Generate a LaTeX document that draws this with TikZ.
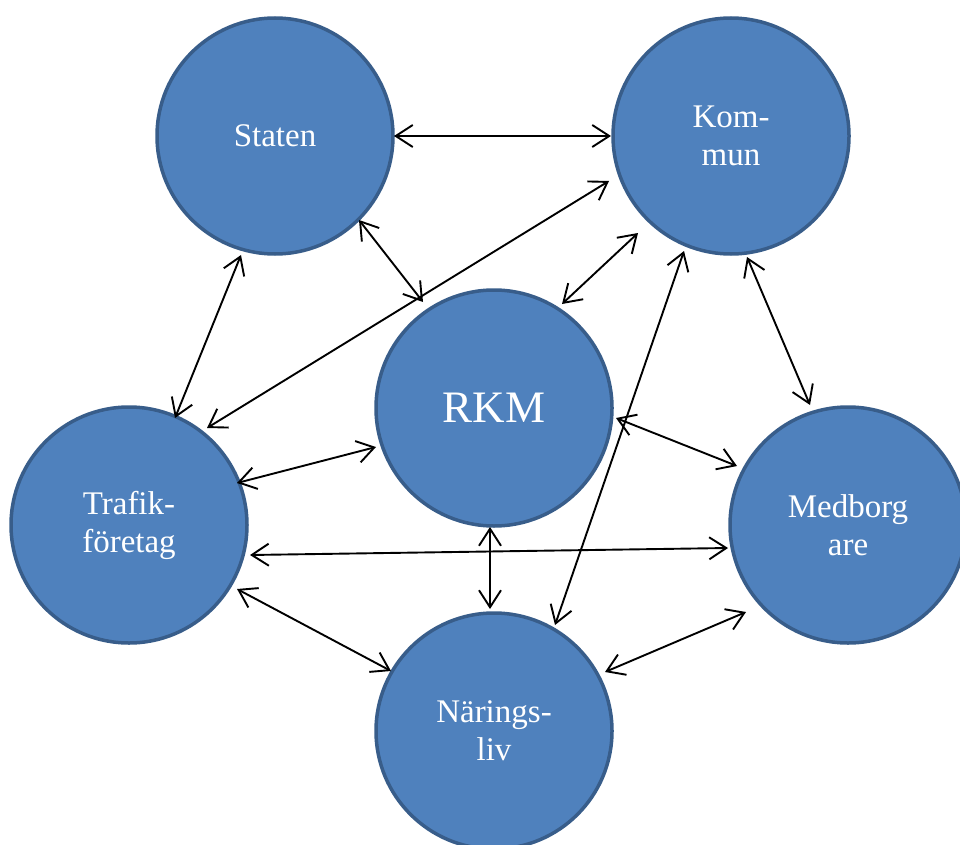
\documentclass[tikz,border=0pt]{standalone}
\usepackage{fontspec}
\setmainfont{Liberation Serif}
\usetikzlibrary{arrows.meta,calc}
\definecolor{cfill}{HTML}{4F81BD}
\definecolor{cline}{HTML}{385D8A}
\tikzset{
  bubble/.style={circle,draw=cline,line width=3.5pt,fill=cfill,minimum size=236pt,inner sep=0pt,
    text=white,align=center,font=\fontsize{33}{38}\selectfont},
  arr/.style={line width=1.9pt,{Straight Barb[length=17pt,width=22pt]}-{Straight Barb[length=17pt,width=22pt]}}
}
\begin{document}
\begin{tikzpicture}[x=1pt,y=-1pt]
\useasboundingbox (0,0) rectangle (960,845);
\node[bubble] (staten) at (275,136) {Staten};
\node[bubble] (kommun) at (731,136) {Kom-\\mun};
\node[bubble,font=\fontsize{45}{50}\selectfont] (rkm) at (494,408) {RKM};
\node[bubble] (trafik) at (129,525) {Trafik-\\företag};
\node[bubble] (medb) at (848,525) {Medborg\\are};
\node[bubble] (nar) at (494,731) {Närings-\\liv};
\draw[arr] ($(staten)+(119,0)$) -- ($(kommun)+(-120,0)$);
\draw[arr] ($(staten)+(84,84)$) -- ($(rkm)+(-71,-106)$);
\draw[arr] ($(staten)+(-34,119)$) -- ($(trafik)+(46,-107)$);
\draw[arr] ($(kommun)+(-122,45)$) -- ($(trafik)+(78,-97)$);
\draw[arr] ($(kommun)+(-93,97)$) -- ($(rkm)+(68,-104)$);
\draw[arr] ($(kommun)+(-47,115)$) -- ($(nar)+(61,-106)$);
\draw[arr] ($(kommun)+(16,121)$) -- ($(medb)+(-38,-120)$);
\draw[arr] ($(rkm)+(-118,39)$) -- ($(trafik)+(108,-42)$);
\draw[arr] ($(rkm)+(122,10)$) -- ($(medb)+(-111,-59)$);
\draw[arr] ($(rkm)+(-4,119)$) -- ($(nar)+(-4,-122)$);
\draw[arr] ($(trafik)+(121,30)$) -- ($(medb)+(-120,23)$);
\draw[arr] ($(trafik)+(108,64)$) -- ($(nar)+(-103,-60)$);
\draw[arr] ($(nar)+(111,-59)$) -- ($(medb)+(-102,87)$);
\end{tikzpicture}
\end{document}
